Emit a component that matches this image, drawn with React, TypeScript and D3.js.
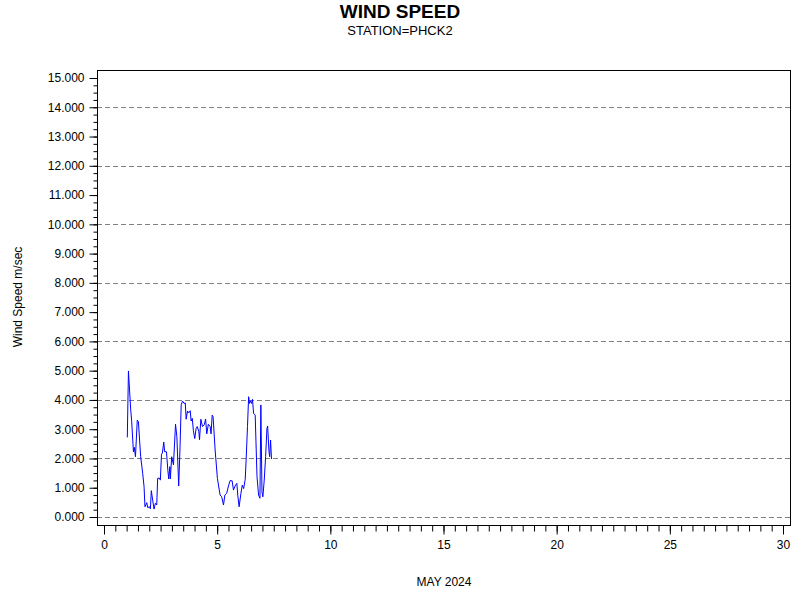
import * as d3 from "d3";
import React, { useRef, useEffect } from "react";

// day of month (fractional) and wind speed in m/sec
const days = [
  1.03, 1.08, 1.18, 1.22, 1.3, 1.34, 1.39, 1.47, 1.52, 1.62, 1.71, 1.77, 1.81, 1.89, 1.93, 2.01,
  2.05, 2.09, 2.15, 2.21, 2.27, 2.33, 2.37, 2.45, 2.49, 2.54, 2.58, 2.64, 2.68, 2.76, 2.82, 2.86,
  2.91, 2.93, 2.99, 3.07, 3.16, 3.22, 3.3, 3.36, 3.41, 3.47, 3.54, 3.59, 3.63, 3.69, 3.75, 3.81,
  3.85, 3.9, 3.95, 4.01, 4.07, 4.12, 4.19, 4.22, 4.28, 4.35, 4.43, 4.49, 4.54, 4.61, 4.69, 4.73,
  4.78, 4.82, 4.91, 5.01, 5.13, 5.2, 5.28, 5.34, 5.42, 5.5, 5.57, 5.66, 5.72, 5.79, 5.87, 5.91,
  5.97, 6.05, 6.11, 6.17, 6.24, 6.28, 6.34, 6.39, 6.43, 6.47, 6.52, 6.56, 6.61, 6.68, 6.76, 6.83,
  6.89, 6.93, 6.98, 7.02, 7.08, 7.14, 7.2, 7.23, 7.29, 7.32, 7.36, 7.4,
];
const speeds = [
  2.72, 4.99, 3.66, 3.31, 2.23, 2.38, 2.06, 3.31, 3.26, 2.06, 1.49, 1.04, 0.35, 0.49, 0.32, 0.35,
  0.28, 0.9, 0.58, 0.27, 0.47, 0.41, 1.32, 1.33, 1.26, 2.14, 2.19, 2.56, 2.23, 2.23, 1.61, 1.3,
  1.72, 1.3, 2.06, 1.78, 3.17, 2.74, 1.06, 2.4, 3.83, 3.96, 3.88, 3.9, 3.34, 3.62, 3.56, 3.63,
  3.28, 3.37, 2.95, 2.68, 3.03, 3.09, 2.92, 2.64, 3.34, 3.09, 3.15, 3.35, 2.84, 3.17, 3.09, 2.84,
  3.48, 3.43, 2.29, 1.32, 0.75, 0.69, 0.41, 0.75, 0.81, 1.06, 1.24, 1.24, 0.92, 1.06, 1.15, 0.75,
  0.35, 0.81, 1.09, 0.97, 1.29, 1.95, 3.09, 4.11, 3.88, 3.97, 3.88, 4.02, 3.54, 3.48, 1.38, 0.75,
  0.64, 3.83, 0.86, 0.69, 1.26, 2.06, 3.03, 3.11, 2.23, 2.06, 2.63, 1.98,
];

const yTicks = d3.range(0, 16, 1);
const yMinorTicks = d3.range(0, 15.01, 0.25);
const gridValues = d3.range(0, 15, 2);
const xTicks = [0, 5, 10, 15, 20, 25, 30];
const xMinorTicks = d3.range(0, 30.01, 0.5);

const FONT = "'Liberation Sans', Arial, sans-serif";

export default function App() {
  const svgRef = useRef<SVGSVGElement | null>(null);

  useEffect(() => {
    if (!svgRef.current) return;
    const svg = d3.select(svgRef.current);
    svg.selectAll("*").remove();

    // frame of the plot area
    const frame = { left: 97, right: 790, top: 70, bottom: 525 };

    const x = d3.scaleLinear().domain([0, 30]).range([104, 783]);
    const y = d3.scaleLinear().domain([0, 15]).range([517, 78]);

    // titles
    svg
      .append("text")
      .attr("x", 400)
      .attr("y", 18)
      .attr("text-anchor", "middle")
      .style("font-family", FONT)
      .style("font-size", "19px")
      .style("font-weight", "bold")
      .text("WIND SPEED");

    svg
      .append("text")
      .attr("x", 400)
      .attr("y", 35)
      .attr("text-anchor", "middle")
      .style("font-family", FONT)
      .style("font-size", "13px")
      .text("STATION=PHCK2");

    // dashed grid at even values
    svg
      .append("g")
      .selectAll("line")
      .data(gridValues)
      .enter()
      .append("line")
      .attr("x1", frame.left)
      .attr("x2", frame.right)
      .attr("y1", (d) => Math.round(y(d)) + 0.5)
      .attr("y2", (d) => Math.round(y(d)) + 0.5)
      .attr("stroke", "#808080")
      .attr("stroke-dasharray", "5,3");

    // y axis
    const yAxis = d3
      .axisLeft(y)
      .tickValues(yTicks)
      .tickSize(8)
      .tickSizeOuter(0)
      .tickPadding(5)
      .tickFormat(d3.format(".3f"));
    const yMinor = d3
      .axisLeft(y)
      .tickValues(yMinorTicks)
      .tickSize(4)
      .tickSizeOuter(0)
      .tickFormat(() => "");

    svg.append("g").attr("transform", `translate(${frame.left + 0.5},0)`).call(yMinor);
    svg
      .append("g")
      .attr("transform", `translate(${frame.left + 0.5},0)`)
      .call(yAxis)
      .selectAll("text")
      .style("font-family", FONT)
      .style("font-size", "12px")
      .attr("fill", "#000");
    svg.selectAll(".domain").remove();

    // x axis
    const xAxis = d3
      .axisBottom(x)
      .tickValues(xTicks)
      .tickSize(9)
      .tickSizeOuter(0)
      .tickPadding(6)
      .tickFormat(d3.format("d"));
    const xMinor = d3
      .axisBottom(x)
      .tickValues(xMinorTicks)
      .tickSize(6)
      .tickSizeOuter(0)
      .tickFormat(() => "");

    svg.append("g").attr("transform", `translate(0,${frame.bottom + 0.5})`).call(xMinor);
    svg
      .append("g")
      .attr("transform", `translate(0,${frame.bottom + 0.5})`)
      .call(xAxis)
      .selectAll("text")
      .style("font-family", FONT)
      .style("font-size", "12px")
      .attr("fill", "#000");
    svg.selectAll(".domain").remove();

    // frame
    svg
      .append("rect")
      .attr("x", frame.left + 0.5)
      .attr("y", frame.top + 0.5)
      .attr("width", frame.right - frame.left)
      .attr("height", frame.bottom - frame.top)
      .attr("fill", "none")
      .attr("stroke", "#000");

    // data line
    const line = d3
      .line<number>()
      .x((_, i) => x(days[i]))
      .y((d) => y(d));

    svg
      .append("path")
      .datum(speeds)
      .attr("d", line)
      .attr("fill", "none")
      .attr("stroke", "#0000ff")
      .attr("stroke-width", 1);

    // axis labels
    svg
      .append("text")
      .attr("x", 444)
      .attr("y", 586)
      .attr("text-anchor", "middle")
      .style("font-family", FONT)
      .style("font-size", "12px")
      .text("MAY 2024");

    svg
      .append("text")
      .attr("transform", `translate(22,297) rotate(-90)`)
      .attr("text-anchor", "middle")
      .style("font-family", FONT)
      .style("font-size", "12px")
      .text("Wind Speed m/sec");
  }, []);

  return (
    <svg
      ref={svgRef}
      width={800}
      height={600}
      style={{ position: "absolute", left: 0, top: 0, background: "#fff" }}
    ></svg>
  );
}
